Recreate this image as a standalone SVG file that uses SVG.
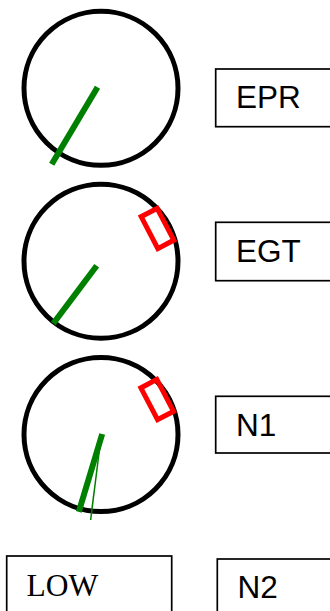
<svg xmlns="http://www.w3.org/2000/svg" width="330" height="611" viewBox="0 0 330 611">
<style>
.dial{fill:none;stroke:#000;stroke-width:5}
.needle{stroke:#008000;stroke-width:6;stroke-linecap:butt}
.thin{stroke:#008000;stroke-width:1.5}
.limit{fill:none;stroke:#ff0000;stroke-width:5}
.box{fill:#fff;stroke:#000;stroke-width:1.7}
.lbl{font-family:"Liberation Sans",Arial,sans-serif;font-size:31.5px;fill:#000}
.lbl-serif{font-family:"Liberation Serif","Times New Roman",serif;font-size:31.5px;fill:#000}
</style>
<rect width="330" height="611" fill="#fff"/>
<g id="gauge-epr">
<circle class="dial" cx="101" cy="88.3" r="77"/>
<line class="needle" x1="97.5" y1="87.3" x2="51.7" y2="164.3"/>
</g>
<g id="gauge-egt">
<circle class="dial" cx="101" cy="261.2" r="77"/>
<rect class="limit" x="-9" y="-18" width="18" height="36" transform="translate(157.5 228.4) rotate(-27.6)"/>
<line class="needle" x1="96.7" y1="265.7" x2="53.3" y2="323.5"/>
</g>
<g id="gauge-n1">
<circle class="dial" cx="101" cy="434.5" r="77"/>
<rect class="limit" x="-9" y="-18" width="18" height="36" transform="translate(157.2 399.6) rotate(-27.6)"/>
<line class="needle" x1="102.2" y1="434" x2="78.8" y2="511.8"/>
<line class="thin" x1="101" y1="437" x2="90.6" y2="520"/>
</g>
<g id="label-epr">
<rect class="box" x="215.7" y="69" width="130" height="57.7"/>
<text class="lbl" x="236" y="108.3">EPR</text>
</g>
<g id="label-egt">
<rect class="box" x="215.7" y="222.3" width="130" height="58.4"/>
<text class="lbl" x="236" y="261.7">EGT</text>
</g>
<g id="label-n1">
<rect class="box" x="215.7" y="396.3" width="130" height="56.7"/>
<text class="lbl" x="236" y="436.3">N1</text>
</g>
<g id="label-low">
<rect class="box" x="6.7" y="556" width="165" height="70"/>
<text class="lbl-serif" x="26.5" y="596">LOW</text>
</g>
<g id="label-n2">
<rect class="box" x="217.3" y="559" width="130" height="70"/>
<text class="lbl" x="237.5" y="598.3">N2</text>
</g>
<g id="connectors"></g>
</svg>
